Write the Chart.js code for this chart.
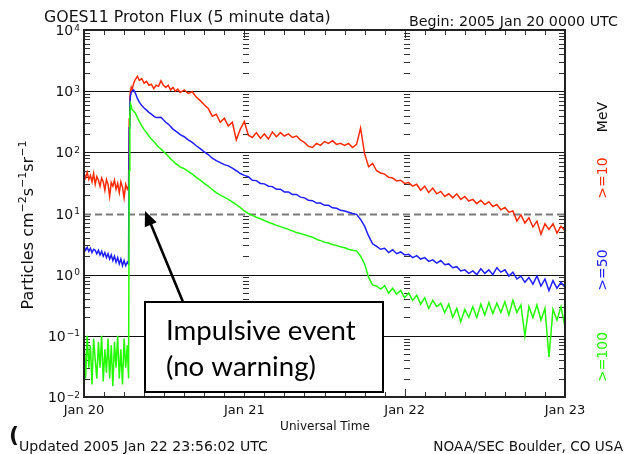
<!DOCTYPE html>
<html><head><meta charset="utf-8">
<script src="https://cdn.jsdelivr.net/npm/chart.js@4/dist/chart.umd.min.js"></script>
<style>html,body{margin:0;padding:0;background:#fff;}#wrap{width:627px;height:454px;position:relative;}</style>
</head><body><div id="wrap"><canvas id="c" width="627" height="454"></canvas></div>
<script>
// ---------- text ----------
const chartTitle = 'GOES11 Proton Flux (5 minute data)';
const beginText = 'Begin: 2005 Jan 20 0000 UTC';
const xTickDays = [0, 1, 2, 3];
const xTickLabels = ['Jan 20', 'Jan 21', 'Jan 22', 'Jan 23'];
const yDecades = [-2, -1, 0, 1, 2, 3, 4];
const xTitle = 'Universal Time';
const unitLabel = 'MeV';
const seriesLabels = ['>=10', '>=50', '>=100'];
const footLeft = 'Updated 2005 Jan 22 23:56:02 UTC';
const footRight = 'NOAA/SEC Boulder, CO USA';
const noteLines = ['Impulsive event', '(no warning)'];

// ---------- data (days since 2005 Jan 20 00 UT) ----------
const times = [0,0.01,0.02,0.03,0.04,0.05,0.06,0.07,0.08,0.09,
 0.1,0.11,0.12,0.13,0.14,0.15,0.16,0.17,0.18,0.19,
 0.2,0.21,0.22,0.23,0.24,0.25,0.26,0.27,0.278,
 0.282,0.286,0.29,0.295,0.3,0.31,0.32,0.333,0.345,0.36,0.375,0.39,0.405,0.42,0.435,0.45,0.465,0.48,0.495,0.51,0.525,0.54,0.555,0.57,0.585,0.6,
 0.625,0.65,0.675,0.7,0.725,0.75,0.775,0.8,
 0.825,0.85,0.875,0.9,0.925,0.95,0.975,1,
 1.025,1.05,1.075,1.1,1.125,1.15,1.175,1.2,
 1.225,1.25,1.275,1.3,1.325,1.35,1.375,1.4,
 1.425,1.45,1.475,1.5,1.525,1.55,1.575,1.6,
 1.625,1.65,1.675,1.7,1.725,1.75,1.775,1.8,
 1.825,1.85,1.875,1.9,1.925,1.95,1.975,2,
 2.025,2.05,2.075,2.1,2.125,2.15,2.175,2.2,
 2.225,2.25,2.275,2.3,2.325,2.35,2.375,2.4,
 2.425,2.45,2.475,2.5,2.525,2.55,2.575,2.6,
 2.625,2.65,2.675,2.7,2.725,2.75,2.775,2.8,
 2.825,2.85,2.875,2.9,2.925,2.95,2.975,3];

const p10 = [44,38,47,36,42,33,45,30,40,35,
 28,38,33,24,36,30,19,32,28,35,
 25,31,22,33,27,18,30,25,28,
 350,800,1000,1150,1050,1350,1550,1750,1500,1600,1350,1450,1250,1300,1100,1250,1200,1480,1250,1150,1250,1050,1150,1000,1080,950,
 1050,920,980,800,700,600,520,390,
 420,310,360,270,310,160,240,320,
 190,175,210,170,200,165,215,180,
 210,185,200,175,185,160,145,125,
 120,140,130,150,140,155,135,140,
 130,140,120,135,250,95,58,66,
 50,46,44,39,38,34,35,31,
 32,28,30,24,28,22,26,21,
 23,19,21,18,21,17,19,16,
 17,14.5,16.5,14,15.5,13,14,11.5,
 12.5,10.5,11,7.5,9.5,7,8.5,6,
 7.5,4.6,6.8,5.5,6.8,4.8,6.2,5.2];

const p50 = [2.9,2.5,2.8,2.4,2.7,2.3,2.6,2.5,2.2,2.5,
 2.1,2.4,2.0,2.3,1.9,2.2,1.8,2.1,1.7,2.0,
 1.6,1.9,1.5,1.8,1.4,1.7,1.4,1.6,1.5,
 250,600,850,950,1000,1050,930,760,660,580,530,490,450,420,390,370,370,375,340,310,290,265,240,225,210,195,
 180,160,145,128,115,102,92,80,
 73,68,63,60,55,50,45,42,
 40,35,34.5,31,30.5,28,27.5,25,
 25,22.5,22.5,20.5,20.5,18.5,18,16.5,
 16.2,14.8,14.8,13.6,13.6,12.4,12.2,11.3,
 11,10.5,10,9.7,8,6.2,4.3,3.2,
 2.9,2.6,2.7,2.3,2.55,2.2,2.35,2.1,
 2.15,1.9,2.05,1.8,1.9,1.65,1.75,1.55,
 1.7,1.45,1.5,1.3,1.35,1.15,1.2,1.05,
 1.15,1.0,1.25,1.05,1.2,1.0,1.3,1.1,
 1.2,0.95,1.1,0.85,0.95,0.75,0.9,0.7,
 0.95,0.65,0.85,0.55,0.8,0.6,0.75,0.62];

const p100 = [0.08,0.02,0.1,0.03,0.07,0.016,0.09,0.04,0.02,0.08,
 0.03,0.1,0.018,0.06,0.025,0.09,0.02,0.07,0.015,0.08,
 0.03,0.1,0.02,0.06,0.016,0.09,0.03,0.07,0.02,
 50,400,620,560,500,470,440,370,320,270,235,210,185,165,150,135,122,113,104,95,87,78,72,66,62,58,
 54,49,44,39,35,31,28,24.5,
 22,20,18.5,17,15.5,14,12.5,11,
 10,9.3,8.7,8.2,7.7,7.2,6.8,6.4,
 6.1,5.8,5.5,5.2,4.9,4.7,4.5,4.3,
 4.1,3.8,3.6,3.4,3.3,3.1,3.0,2.85,
 2.75,2.6,2.5,2.45,2.0,1.5,0.9,0.68,
 0.65,0.58,0.66,0.5,0.6,0.48,0.55,0.42,
 0.5,0.38,0.46,0.33,0.42,0.28,0.38,0.3,
 0.34,0.24,0.33,0.2,0.28,0.17,0.27,0.2,
 0.3,0.2,0.33,0.22,0.35,0.23,0.34,0.24,
 0.36,0.22,0.38,0.24,0.32,0.1,0.3,0.2,
 0.32,0.18,0.28,0.045,0.27,0.18,0.3,0.14];

const colRed = '#ff2a00', colBlue = '#1e1eff', colGreen = '#22ff00';
const FONT = '"DejaVu Sans"';

function pts(vals){ return times.map((t,i)=>({x:t, y:vals[i]})); }

function line(ctx,x1,y1,x2,y2){ ctx.beginPath(); ctx.moveTo(x1,y1); ctx.lineTo(x2,y2); ctx.stroke(); }
function fitSize(ctx, text, family, target){ ctx.font = '100px ' + family; return 100*target/ctx.measureText(text).width; }

const deco = {
  id: 'deco',
  beforeDatasetsDraw(chart){
    const {ctx, chartArea:a, scales:{x, y}} = chart;
    ctx.save();
    for (const d of yDecades){
      if (d === -2 || d === 4) continue;
      const py = Math.round(y.getPixelForValue(Math.pow(10,d))) + 0.5;
      if (d === 1){ ctx.strokeStyle='#7a7a7a'; ctx.lineWidth=2; ctx.setLineDash([7,4]); }
      else { ctx.strokeStyle='#111'; ctx.lineWidth=1; ctx.setLineDash([]); }
      line(ctx, a.left, py, a.right, py);
    }
    ctx.setLineDash([]);
    ctx.strokeStyle='#333'; ctx.lineWidth=1;
    for (let d=-2; d<4; d++){
      for (let m=2; m<=9; m++){
        const py = Math.round(y.getPixelForValue(m*Math.pow(10,d))) + 0.5;
        line(ctx, a.left, py, a.left+6, py);
        line(ctx, a.right-6, py, a.right, py);
        for (const day of [1,2]){
          const px = Math.round(x.getPixelForValue(day));
          line(ctx, px-1, py, px+5, py);
        }
      }
    }
    for (let k=1; k<24; k++){
      const px = Math.round(x.getPixelForValue(k/8)) + 0.5;
      const len = (k%8===0) ? 8 : 5;
      line(ctx, px, a.bottom, px, a.bottom-len);
      line(ctx, px, a.top, px, a.top+len);
    }
    ctx.restore();
  },
  afterDatasetsDraw(chart){
    const {ctx, chartArea:a} = chart;
    ctx.save();
    ctx.strokeStyle='#222'; ctx.lineWidth=2;
    ctx.strokeRect(a.left, a.top, a.right-a.left, a.bottom-a.top);
    ctx.restore();
  },
  afterDraw(chart){
    const {ctx, chartArea:a, scales:{x, y}} = chart;
    ctx.save();
    ctx.fillStyle='#111';
    ctx.textAlign='left'; ctx.textBaseline='alphabetic';
    let s = fitSize(ctx, chartTitle, FONT, 287);
    ctx.font = s+'px '+FONT; ctx.fillText(chartTitle, 44, 22);
    s = fitSize(ctx, beginText, FONT, 209);
    ctx.font = s+'px '+FONT; ctx.fillText(beginText, 409, 26);
    for (const d of yDecades){
      const py = y.getPixelForValue(Math.pow(10,d));
      const e = d<0 ? '\u2212'+(-d) : String(d);
      ctx.font = '9px '+FONT; const we = ctx.measureText(e).width;
      ctx.font = '14px '+FONT; const wb = ctx.measureText('10').width;
      const right = 80;
      ctx.fillText('10', right-we-wb-1, py+5);
      ctx.font = '9px '+FONT; ctx.fillText(e, right-we, py+0.5);
    }
    ctx.textAlign='center'; ctx.textBaseline='middle';
    ctx.font = '13px '+FONT;
    xTickDays.forEach((d,i)=>{ ctx.fillText(xTickLabels[i], x.getPixelForValue(d), 411); });
    s = fitSize(ctx, xTitle, FONT, 90);
    ctx.font = s+'px '+FONT; ctx.fillText(xTitle, 325, 427);
    ctx.textAlign='left';
    s = fitSize(ctx, footLeft, FONT, 249);
    ctx.font = s+'px '+FONT; ctx.fillText(footLeft, 19, 447);
    ctx.textAlign='right';
    s = fitSize(ctx, footRight, FONT, 190);
    ctx.font = s+'px '+FONT; ctx.fillText(footRight, 623, 447);
    ctx.textAlign='left'; ctx.font = 'bold 22px '+FONT; ctx.fillText('(', 9, 436);
    ctx.save();
    ctx.translate(27, 225); ctx.rotate(-Math.PI/2);
    const parts = [['Particles cm',0],['\u22122',1],['s',0],['\u22121',1],['sr',0],['\u22121',1]];
    let total=0;
    for (const [t,sp] of parts){ ctx.font=(sp?11:16)+'px '+FONT; total+=ctx.measureText(t).width; }
    let xx = -total/2; ctx.textAlign='left'; ctx.textBaseline='alphabetic';
    for (const [t,sp] of parts){ ctx.font=(sp?11:16)+'px '+FONT; ctx.fillText(t, xx, sp?-1:6); xx+=ctx.measureText(t).width; }
    ctx.restore();
    const rl = [[unitLabel,117,'#111'],[seriesLabels[0],178,colRed],[seriesLabels[1],270,colBlue],[seriesLabels[2],357,colGreen]];
    for (const [t,cy,c] of rl){
      ctx.save(); ctx.translate(603, cy); ctx.rotate(-Math.PI/2);
      ctx.fillStyle=c; ctx.font='14px '+FONT; ctx.textAlign='center'; ctx.textBaseline='middle';
      ctx.fillText(t,0,0); ctx.restore();
    }
    ctx.fillStyle='#fff'; ctx.fillRect(145,302,238,90);
    ctx.strokeStyle='#000'; ctx.lineWidth=2; ctx.strokeRect(145,302,238,90);
    ctx.lineWidth=2.6; line(ctx, 183, 302, 150, 222);
    const ang = Math.atan2(211-302, 145-183);
    const tx=145, ty=211, L=15, W=6.5;
    const bx = tx - L*Math.cos(ang), by = ty - L*Math.sin(ang);
    ctx.fillStyle='#000'; ctx.beginPath(); ctx.moveTo(tx,ty);
    ctx.lineTo(bx + W*Math.sin(ang), by - W*Math.cos(ang));
    ctx.lineTo(bx - W*Math.sin(ang), by + W*Math.cos(ang)); ctx.closePath(); ctx.fill();
    ctx.textAlign='left'; ctx.textBaseline='alphabetic';
    s = fitSize(ctx, noteLines[1], 'Lato', 150);
    ctx.font = s+'px Lato';
    ctx.fillText(noteLines[0], 166, 340);
    ctx.fillText(noteLines[1], 166, 376);
    ctx.restore();
  }
};

new Chart(document.getElementById('c'), {
  type: 'line',
  data: { datasets: [
    { label: seriesLabels[2], data: pts(p100), borderColor: colGreen, order: 0 },
    { label: seriesLabels[1], data: pts(p50), borderColor: colBlue, order: 1 },
    { label: seriesLabels[0], data: pts(p10), borderColor: colRed, order: 2 }
  ]},
  options: {
    responsive: false, animation: false, devicePixelRatio: 1,
    layout: { padding: { left: 84, top: 30, right: 62, bottom: 57 } },
    elements: { point: { radius: 0 }, line: { borderWidth: 1.5, tension: 0 } },
    plugins: { legend: { display: false }, tooltip: { enabled: false }, title: { display: false } },
    scales: {
      x: { type: 'linear', min: 0, max: 3, display: false },
      y: { type: 'logarithmic', min: 0.01, max: 10000, display: false }
    }
  },
  plugins: [deco]
});
</script>
</body></html>
